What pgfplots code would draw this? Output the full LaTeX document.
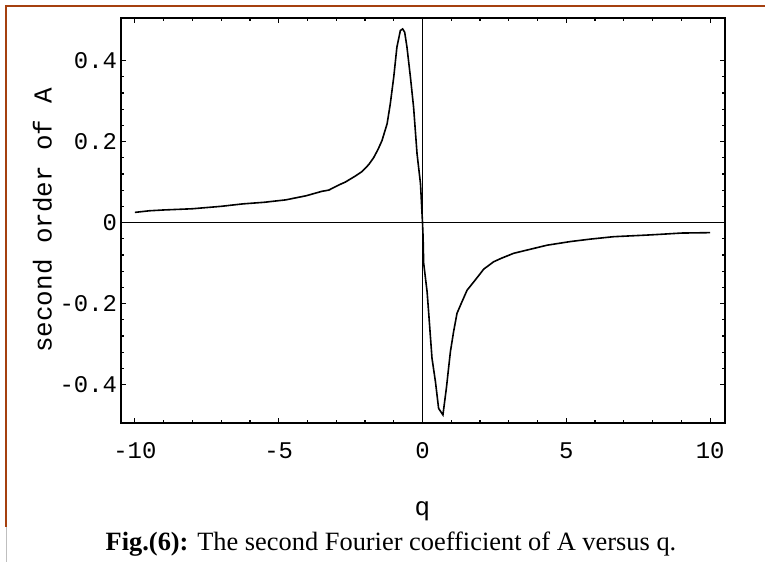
\documentclass[border=0pt]{standalone}
\usepackage{fontspec}
\setmainfont{Liberation Serif}
\newfontfamily\monofont{Liberation Mono}
\usepackage{pgfplots}
\pgfplotsset{compat=1.18}
\definecolor{framebrown}{HTML}{A5400F}

\pgfplotstableread{
q      f
-10.0  0.025
-9.5   0.029
-9.0   0.031
-8.0   0.034
-7.0   0.040
-6.25  0.046
-5.5   0.050
-4.75  0.056
-4.05  0.066
-3.5   0.077
-3.26  0.080
-2.9   0.093
-2.68  0.100
-2.33  0.115
-2.1   0.126
-1.87  0.143
-1.7   0.160
-1.55  0.180
-1.41  0.202
-1.23  0.244
-1.12  0.293
-1.0   0.359
-0.89  0.433
-0.77  0.474
-0.69  0.478
-0.62  0.470
-0.54  0.433
-0.42  0.359
-0.31  0.285
-0.19  0.170
-0.07  0.096
0.0    0.0
0.02  -0.035
0.04  -0.100
0.16  -0.171
0.22  -0.228
0.33  -0.335
0.45  -0.393
0.56  -0.459
0.71  -0.475
0.83  -0.409
0.97  -0.319
1.08  -0.270
1.20  -0.224
1.37  -0.196
1.55  -0.167
1.80  -0.145
2.13  -0.115
2.47  -0.097
2.75  -0.088
3.17  -0.076
3.40  -0.072
4.33  -0.056
5.14  -0.047
5.83  -0.041
6.64  -0.035
7.8   -0.031
8.3   -0.029
9.0   -0.026
10.0  -0.025
}\coeffdata

\begin{document}
\begin{tikzpicture}
\path[use as bounding box] (0,0) rectangle (765bp,-562bp);
\draw[framebrown, line width=2bp] (6bp,-6bp) -- (765bp,-6bp);
\draw[framebrown, line width=2bp] (6bp,-5bp) -- (6bp,-527bp);
\draw[gray!50, line width=1bp] (6bp,-527bp) -- (6bp,-562bp);
\begin{axis}[
  at={(120.5bp,-423bp)}, anchor=south west,
  width=604bp, height=405bp, scale only axis,
  xmin=-10.5, xmax=10.5, ymin=-0.495, ymax=0.505,
  xtick={-10,-5,0,5,10}, xticklabels={-10,-5,0,5,10},
  ytick={-0.4,-0.2,0,0.2,0.4}, yticklabels={-0.4,-0.2,0,0.2,0.4},
  minor x tick num=4, minor y tick num=4,
  tick align=inside, tick pos=both,
  major tick length=5bp, minor tick length=3bp,
  every tick/.style={black, line width=1.2bp},
  axis line style={line width=2bp},
  tick label style={font=\monofont\fontsize{24}{28}\selectfont},
  xticklabel style={yshift=-16bp},
  xlabel={q}, ylabel={second order of A},
  every axis x label/.style={at={(axis description cs:0.5,0)}, anchor=base, yshift=-92bp, font=\monofont\fontsize{26}{30}\selectfont},
  every axis y label/.style={at={(axis description cs:0,0.5)}, xshift=-78bp, rotate=90, anchor=center, font=\monofont\fontsize{26}{30}\selectfont},
]
\draw[line width=1.6bp] (axis cs:-10.5,0) -- (axis cs:10.5,0);
\draw[line width=1.6bp] (axis cs:0,-0.495) -- (axis cs:0,0.505);
\addplot[black, line width=1.6bp, sharp plot] table[x=q, y=f] {\coeffdata};
\end{axis}
\node[anchor=base, font=\fontsize{26.5}{30}\selectfont] at (391bp,-550bp) {\textbf{Fig.(6):} The second Fourier coefficient of A versus q.};
\end{tikzpicture}
\end{document}
